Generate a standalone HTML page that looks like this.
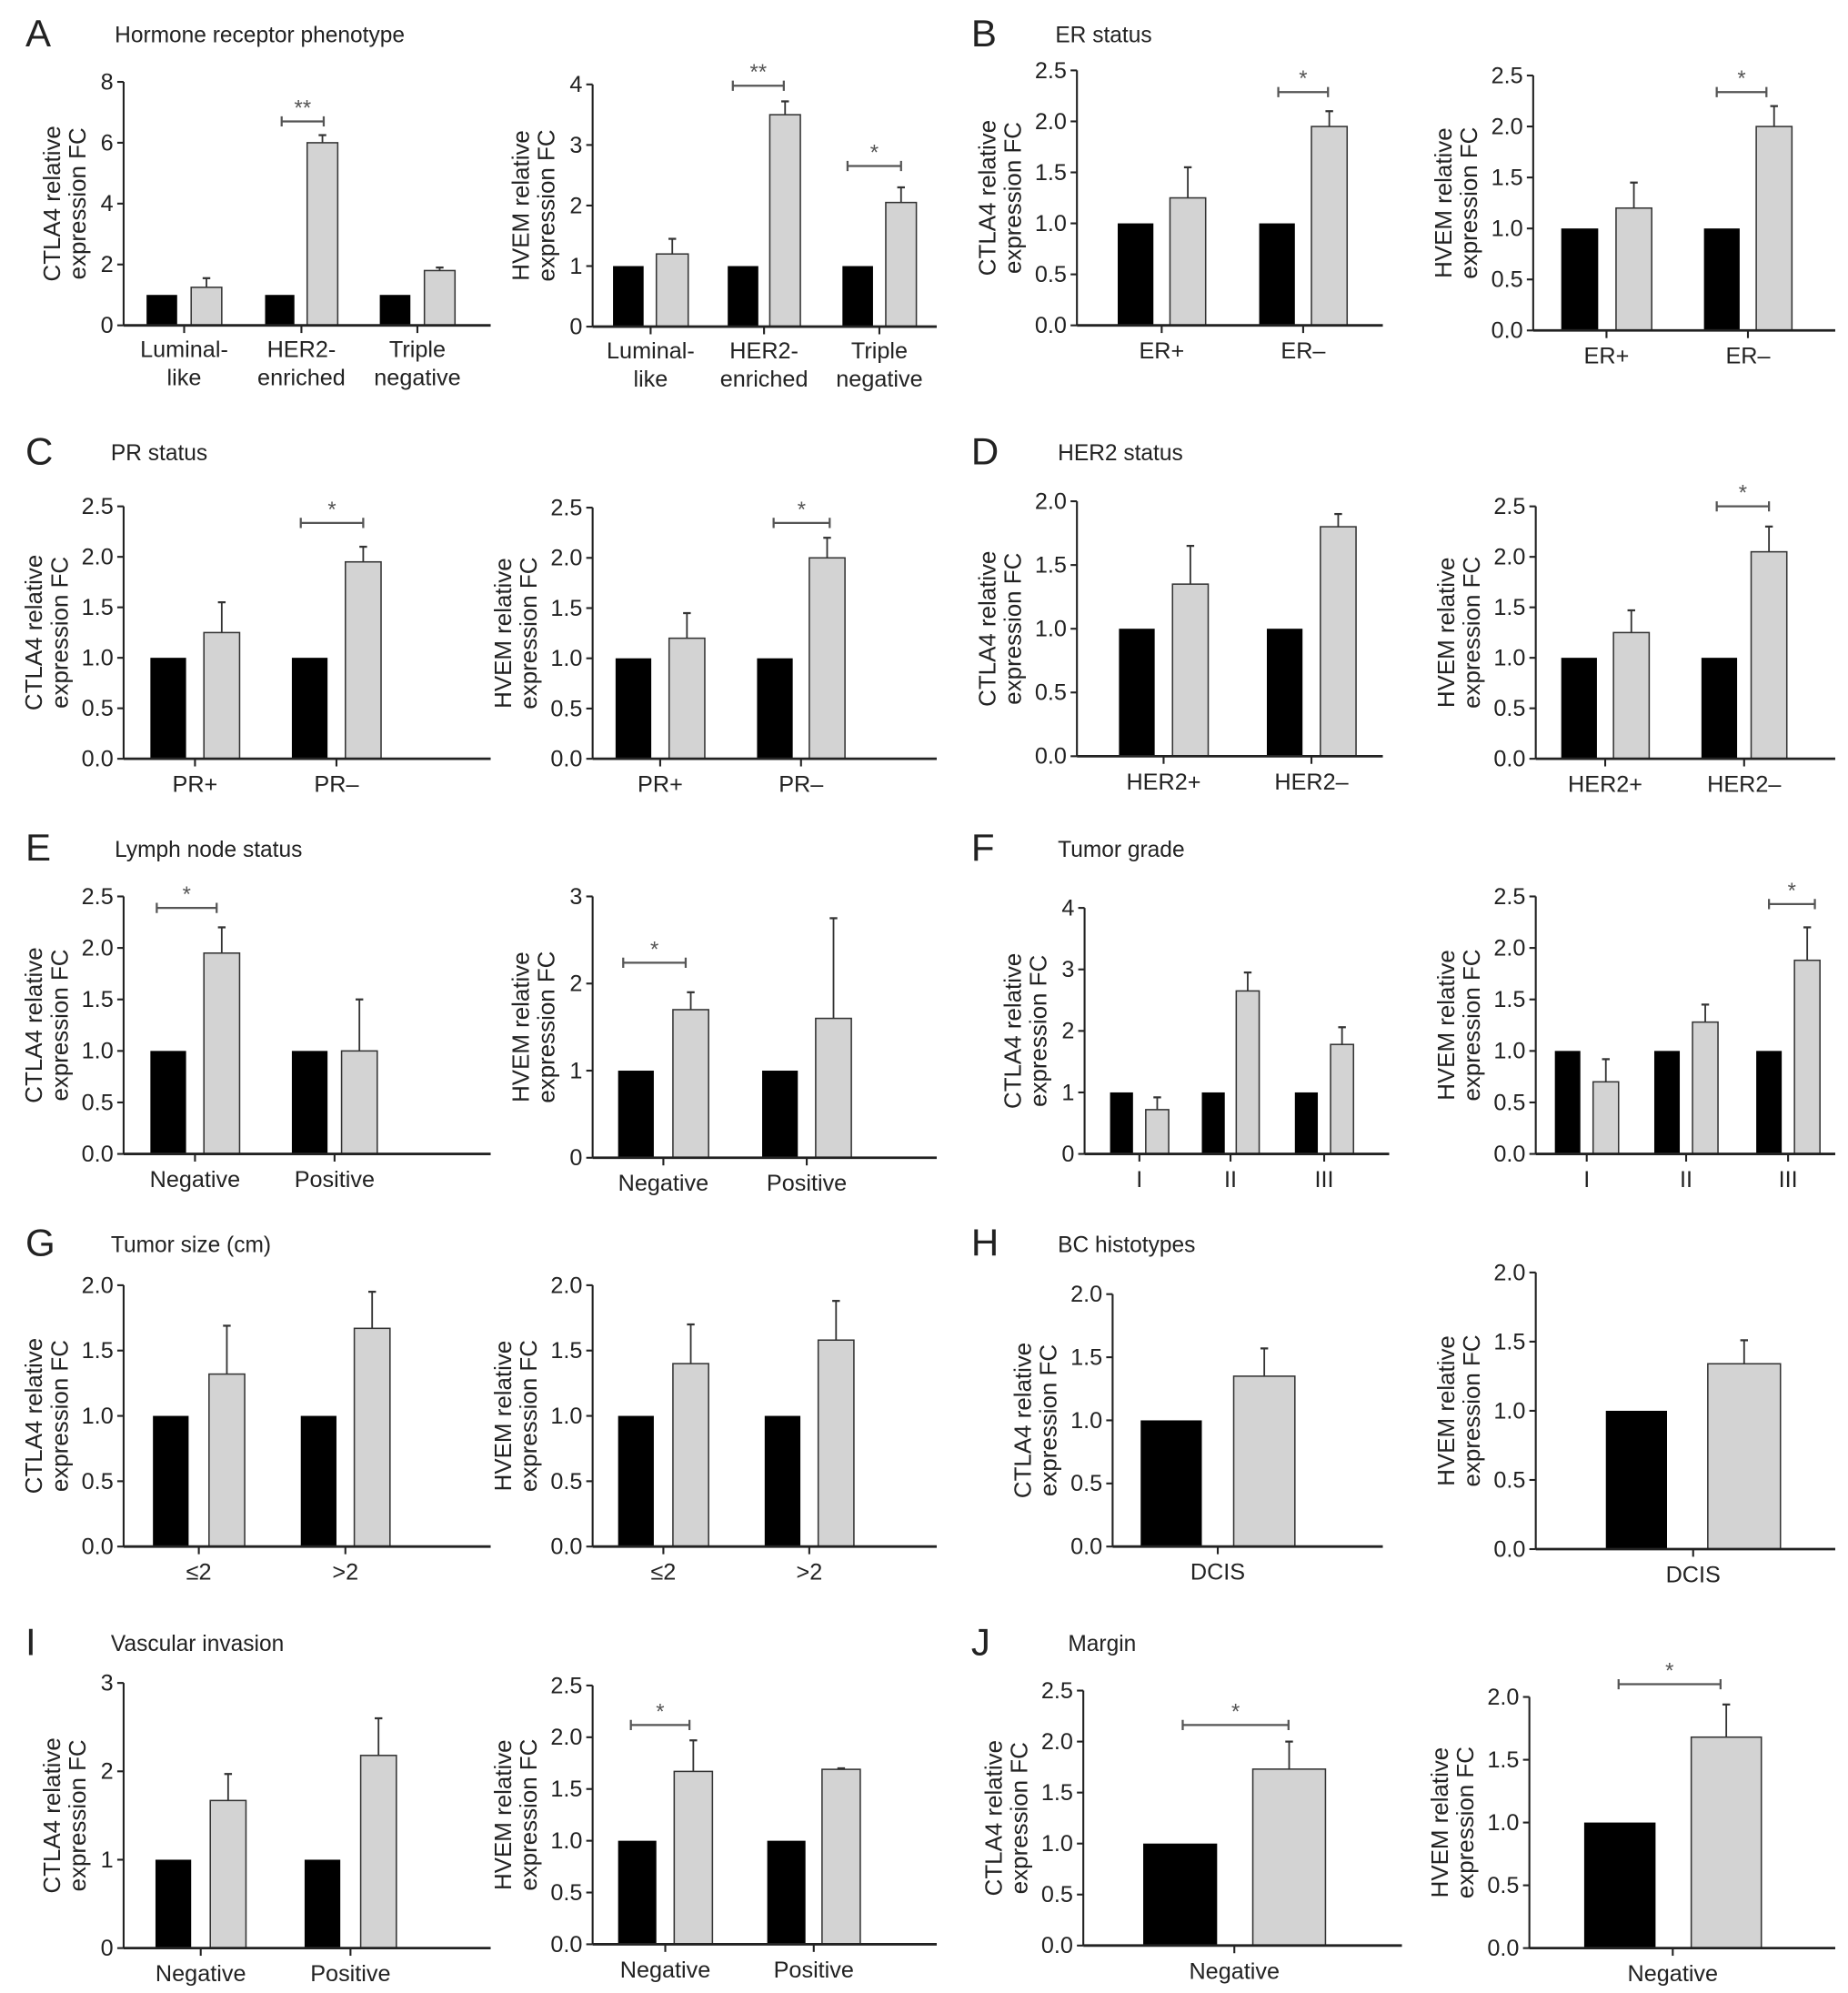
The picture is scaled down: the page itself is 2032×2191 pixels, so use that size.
<!DOCTYPE html>
<html><head><meta charset="utf-8"><style>
html,body{margin:0;padding:0;background:#fff}
svg{display:block}
text{font-family:"Liberation Sans",sans-serif;fill:#222}
</style></head><body>
<svg id="fig" width="2032" height="2191" viewBox="0 0 1450 1563" xmlns="http://www.w3.org/2000/svg"></svg>
<script>
// ---- data ----
const catsA = [["Luminal-","like"],["HER2-","enriched"],["Triple","negative"]];
const ctlA = [1,1,1];
const a1Vals = [1.25,6.0,1.8];  const a1Errs = [0.3,0.25,0.1];
const a2Vals = [1.2,3.5,2.05];  const a2Errs = [0.25,0.22,0.25];
const catsB = [["ER+"],["ER–"]];
const b1Vals = [1.25,1.95]; const b1Errs = [0.3,0.15];
const b2Vals = [1.2,2.0];   const b2Errs = [0.25,0.2];
const catsC = [["PR+"],["PR–"]];
const c1Vals = [1.25,1.95]; const c1Errs = [0.3,0.15];
const c2Vals = [1.2,2.0];   const c2Errs = [0.25,0.2];
const catsD = [["HER2+"],["HER2–"]];
const d1Vals = [1.35,1.8];  const d1Errs = [0.3,0.1];
const d2Vals = [1.25,2.05]; const d2Errs = [0.22,0.25];
const catsE = [["Negative"],["Positive"]];
const e1Vals = [1.95,1.0];  const e1Errs = [0.25,0.5];
const e2Vals = [1.7,1.6];   const e2Errs = [0.2,1.15];
const catsF = [["I"],["II"],["III"]];
const f1Vals = [0.72,2.65,1.78]; const f1Errs = [0.2,0.3,0.28];
const f2Vals = [0.7,1.28,1.88];  const f2Errs = [0.22,0.17,0.32];
const catsG = [["≤2"],[">2"]];
const g1Vals = [1.32,1.67]; const g1Errs = [0.37,0.28];
const g2Vals = [1.4,1.58];  const g2Errs = [0.3,0.3];
const catsH = [["DCIS"]];
const h1Vals = [1.35]; const h1Errs = [0.22];
const h2Vals = [1.34]; const h2Errs = [0.17];
const catsI = [["Negative"],["Positive"]];
const i1Vals = [1.67,2.18]; const i1Errs = [0.3,0.42];
const i2Vals = [1.67,1.69]; const i2Errs = [0.3,0.01];
const catsJ = [["Negative"]];
const j1Vals = [1.73]; const j1Errs = [0.27];
const j2Vals = [1.68]; const j2Errs = [0.26];
const ticks2_5 = ["0.0","0.5","1.0","1.5","2.0","2.5"];
const ticks2_0 = ["0.0","0.5","1.0","1.5","2.0"];
const ticks8 = ["0","2","4","6","8"];
const ticks4 = ["0","1","2","3","4"];
const ticks3 = ["0","1","2","3"];

const NS="http://www.w3.org/2000/svg";
const svg=document.getElementById('fig');
function mk(tag,attrs,parent){const e=document.createElementNS(NS,tag);for(const k in attrs)e.setAttribute(k,attrs[k]);(parent||svg).appendChild(e);return e;}

const panels=[
 {id:'a1',g:'CTLA4',cats:catsA,vals:a1Vals,errs:a1Errs,ticks:ticks8,ax:97,y0:255,yt:64,xe:385,bars:[[115,139,150,174],[208,231,241,265],[298,322,333,357]],sig:[[221,254,95,'**']]},
 {id:'a2',g:'HVEM',cats:catsA,vals:a2Vals,errs:a2Errs,ticks:ticks4,ax:465,y0:256,yt:66,xe:735,bars:[[481,505,515,540],[571,595,604,628],[661,685,695,719]],sig:[[575,615,67,'**'],[665,707,130,'*']]},
 {id:'b1',g:'CTLA4',cats:catsB,vals:b1Vals,errs:b1Errs,ticks:ticks2_5,ax:845,y0:255,yt:55,xe:1085,bars:[[877,905,918,946],[988,1016,1029,1057]],sig:[[1003,1042,72,'*']]},
 {id:'b2',g:'HVEM',cats:catsB,vals:b2Vals,errs:b2Errs,ticks:ticks2_5,ax:1203,y0:259,yt:59,xe:1440,bars:[[1225,1254,1268,1296],[1337,1365,1378,1406]],sig:[[1347,1386,72,'*']]},
 {id:'c1',g:'CTLA4',cats:catsC,vals:c1Vals,errs:c1Errs,ticks:ticks2_5,ax:97,y0:595,yt:397,xe:385,bars:[[118,146,160,188],[229,257,271,299]],sig:[[236,285,410,'*']]},
 {id:'c2',g:'HVEM',cats:catsC,vals:c2Vals,errs:c2Errs,ticks:ticks2_5,ax:465,y0:595,yt:398,xe:735,bars:[[483,511,525,553],[594,622,635,663]],sig:[[607,651,410,'*']]},
 {id:'d1',g:'CTLA4',cats:catsD,vals:d1Vals,errs:d1Errs,ticks:ticks2_0,ax:845,y0:593,yt:393,xe:1085,bars:[[878,906,920,948],[994,1022,1036,1064]],sig:[]},
 {id:'d2',g:'HVEM',cats:catsD,vals:d2Vals,errs:d2Errs,ticks:ticks2_5,ax:1205,y0:595,yt:397,xe:1440,bars:[[1225,1253,1266,1294],[1335,1363,1374,1402]],sig:[[1347,1388,397,'*']]},
 {id:'e1',g:'CTLA4',cats:catsE,vals:e1Vals,errs:e1Errs,ticks:ticks2_5,ax:97,y0:905,yt:703,xe:385,bars:[[118,146,160,188],[229,257,268,296]],sig:[[123,170,712,'*']]},
 {id:'e2',g:'HVEM',cats:catsE,vals:e2Vals,errs:e2Errs,ticks:ticks3,ax:465,y0:908,yt:703,xe:735,bars:[[485,513,528,556],[598,626,640,668]],sig:[[489,538,755,'*']]},
 {id:'f1',g:'CTLA4',cats:catsF,vals:f1Vals,errs:f1Errs,ticks:ticks4,ax:851,y0:905,yt:712,xe:1090,bars:[[871,889,899,917],[943,961,970,988],[1016,1034,1044,1062]],sig:[]},
 {id:'f2',g:'HVEM',cats:catsF,vals:f2Vals,errs:f2Errs,ticks:ticks2_5,ax:1205,y0:905,yt:703,xe:1440,bars:[[1220,1240,1250,1270],[1298,1318,1328,1348],[1378,1398,1408,1428]],sig:[[1388,1424,709,'*']]},
 {id:'g1',g:'CTLA4',cats:catsG,vals:g1Vals,errs:g1Errs,ticks:ticks2_0,ax:97,y0:1213,yt:1008,xe:385,bars:[[120,148,164,192],[236,264,278,306]],sig:[]},
 {id:'g2',g:'HVEM',cats:catsG,vals:g2Vals,errs:g2Errs,ticks:ticks2_0,ax:465,y0:1213,yt:1008,xe:735,bars:[[485,513,528,556],[600,628,642,670]],sig:[]},
 {id:'h1',g:'CTLA4',cats:catsH,vals:h1Vals,errs:h1Errs,ticks:ticks2_0,ax:873,y0:1213,yt:1015,xe:1085,bars:[[895,943,968,1016]],sig:[]},
 {id:'h2',g:'HVEM',cats:catsH,vals:h2Vals,errs:h2Errs,ticks:ticks2_0,ax:1205,y0:1215,yt:998,xe:1440,bars:[[1260,1308,1340,1397]],sig:[]},
 {id:'i1',g:'CTLA4',cats:catsI,vals:i1Vals,errs:i1Errs,ticks:ticks3,ax:97,y0:1528,yt:1320,xe:385,bars:[[122,150,165,193],[239,267,283,311]],sig:[]},
 {id:'i2',g:'HVEM',cats:catsI,vals:i2Vals,errs:i2Errs,ticks:ticks2_5,ax:465,y0:1525,yt:1322,xe:735,bars:[[485,515,529,559],[602,632,645,675]],sig:[[495,541,1353,'*']]},
 {id:'j1',g:'CTLA4',cats:catsJ,vals:j1Vals,errs:j1Errs,ticks:ticks2_5,ax:850,y0:1526,yt:1326,xe:1100,bars:[[897,955,983,1040]],sig:[[928,1011,1353,'*']]},
 {id:'j2',g:'HVEM',cats:catsJ,vals:j2Vals,errs:j2Errs,ticks:ticks2_0,ax:1200,y0:1528,yt:1331,xe:1440,bars:[[1243,1299,1327,1382]],sig:[[1270,1350,1321,'*']]}
];

panels.forEach(p=>{
  const g=mk('g',{});
  
  
  const ymax=parseFloat(p.ticks[p.ticks.length-1]);
  const y=v=>p.y0-(v/ymax)*(p.y0-p.yt);
  p.bars.forEach((b,i)=>{
    const r1=mk('rect',{x:b[0],y:y(ctlA[0]),width:b[1]-b[0],height:p.y0-y(ctlA[0]),fill:'#000'},g);
    
    
    const v=p.vals[i],e=p.errs[i],cx=(b[2]+b[3])/2;
    mk('line',{x1:cx,x2:cx,y1:y(v),y2:y(v+e),stroke:'#333','stroke-width':1.3},g);
    mk('line',{x1:cx-3,x2:cx+3,y1:y(v+e),y2:y(v+e),stroke:'#333','stroke-width':1.6},g);
    const r2=mk('rect',{x:b[2],y:y(v),width:b[3]-b[2],height:p.y0-y(v),fill:'#d3d3d3',stroke:'#333','stroke-width':1.1},g);
    
    
    const cc=(b[0]+b[3])/2;
    mk('line',{x1:cc,x2:cc,y1:p.y0,y2:p.y0+6,stroke:'#222','stroke-width':1.5},g);
    const lines=p.cats[i];
    lines.forEach((t,k)=>{
      const tx=mk('text',{x:cc,y:p.y0+(lines.length>1?25:26)+k*22,'text-anchor':'middle','font-size':18},g);
      tx.textContent=t;
      
      
    });
  });
  mk('line',{x1:p.ax,x2:p.ax,y1:p.yt,y2:p.y0,stroke:'#222','stroke-width':1.5},g);
  mk('line',{x1:p.ax,x2:p.xe,y1:p.y0,y2:p.y0,stroke:'#222','stroke-width':2},g);
  p.ticks.forEach(t=>{
    const yy=y(parseFloat(t));
    mk('line',{x1:p.ax-5,x2:p.ax,y1:yy,y2:yy,stroke:'#222','stroke-width':1.5},g);
    const tx=mk('text',{x:p.ax-8,y:yy+6,'text-anchor':'end','font-size':18},g);
    tx.textContent=t;
    
    
  });
  const cy=(p.yt+p.y0)/2;
  [p.g+' relative','expression FC'].forEach((t,k)=>{
    const tx=mk('text',{x:0,y:0,'text-anchor':'middle','font-size':18.5,transform:`translate(${p.ax-(p.ticks[0].length>1?64:50)+k*20},${cy}) rotate(-90)`},g);
    tx.textContent=t;
    
    
  });
  p.sig.forEach(s=>{
    mk('path',{d:`M${s[0]},${s[2]-4}V${s[2]+4}M${s[0]},${s[2]}H${s[1]}M${s[1]},${s[2]-4}V${s[2]+4}`,fill:'none',stroke:'#555','stroke-width':1.6},g);
    const tx=mk('text',{x:(s[0]+s[1])/2,y:s[2]-5,'text-anchor':'middle','font-size':17},g);
    tx.style.fill='#555';
    tx.textContent=s[3];
    
    
  });
});

const heads=[['A','Hormone receptor phenotype',20,36,90],['B','ER status',762,36,828],['C','PR status',20,364,87],['D','HER2 status',762,364,830],['E','Lymph node status',20,675,90],['F','Tumor grade',762,675,830],['G','Tumor size (cm)',20,985,87],['H','BC histotypes',762,985,830],['I','Vascular invasion',20,1298,87],['J','Margin',762,1298,838]];
heads.forEach(h=>{
  const l=mk('text',{x:h[2],y:h[3],'font-size':30});
  l.textContent=h[0];
  
  
  const t=mk('text',{x:h[4],y:h[3]-3,'font-size':17.5});
  t.textContent=h[1];
  
  
});
</script>
</body></html>
